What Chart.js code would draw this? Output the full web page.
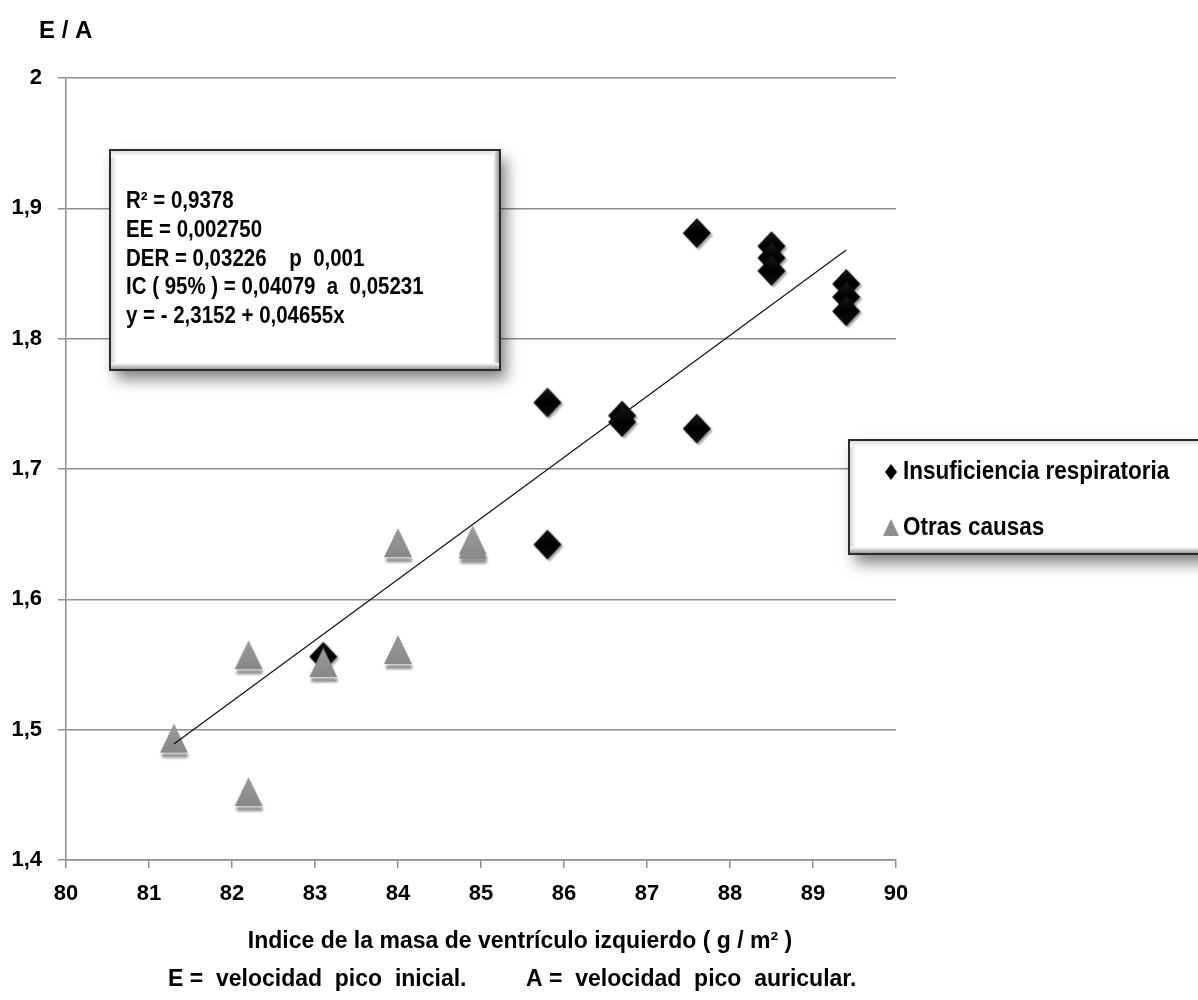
<!DOCTYPE html>
<html><head><meta charset="utf-8">
<script src="https://cdn.jsdelivr.net/npm/chart.js@4.4.1/dist/chart.umd.min.js"></script>
<style>html,body{margin:0;padding:0;background:#fff}canvas{display:block}</style>
</head><body>
<canvas id="c" width="1198" height="1000"></canvas>
<script>
const FONT = '"Liberation Sans",Arial,sans-serif';

// ---- data ----
const xTickValues = [80, 81, 82, 83, 84, 85, 86, 87, 88, 89, 90];
const yTickValues = [1.4, 1.5, 1.6, 1.7, 1.8, 1.9, 2.0];
const insufLabel = 'Insuficiencia respiratoria';
const insufX = [83.1, 85.8, 85.8, 86.7, 86.7, 87.6, 87.6, 88.5, 88.5, 88.5, 89.4, 89.4, 89.4];
const insufY = [1.556, 1.751, 1.642, 1.741, 1.736, 1.881, 1.731, 1.871, 1.862, 1.852, 1.842, 1.832, 1.821];
const otrasLabel = 'Otras causas';
const otrasX = [81.3, 82.2, 82.2, 83.1, 84.0, 84.0, 84.9, 84.9];
const otrasY = [1.492, 1.556, 1.451, 1.550, 1.642, 1.560, 1.644, 1.641];
const trendX = [81.3, 89.4];
const trendY = [1.489, 1.868];
const yTitle = 'E / A';
const xTitle = 'Indice de la masa de ventrículo izquierdo ( g / m² )';
const footLeft = 'E =  velocidad  pico  inicial.';
const footRight = 'A =  velocidad  pico  auricular.';
const statsLines = [
  'R² = 0,9378',
  'EE = 0,002750',
  'DER = 0,03226    p  0,001',
  'IC ( 95% ) = 0,04079  a  0,05231',
  'y = - 2,3152 + 0,04655x'
];

// ---- marker images ----
function makeDiamond(hw, hh) {
  const c = document.createElement('canvas');
  c.width = hw * 2 + 8; c.height = hh * 2 + 8;
  const g = c.getContext('2d');
  const cx = c.width / 2, cy = c.height / 2;
  g.shadowColor = 'rgba(0,0,0,0.35)'; g.shadowBlur = 2; g.shadowOffsetX = 2; g.shadowOffsetY = 2;
  g.beginPath();
  g.moveTo(cx, cy - hh); g.lineTo(cx + hw, cy); g.lineTo(cx, cy + hh); g.lineTo(cx - hw, cy); g.closePath();
  const gr = g.createLinearGradient(0, cy - hh, 0, cy + hh);
  gr.addColorStop(0, '#1a1a1a'); gr.addColorStop(0.5, '#000'); gr.addColorStop(1, '#111');
  g.fillStyle = gr; g.fill();
  return c;
}
function makeTriangle(hw, h) {
  const c = document.createElement('canvas');
  c.width = hw * 2 + 8; c.height = h + 12;
  const g = c.getContext('2d');
  const cx = c.width / 2, top = 4, base = top + h;
  g.save();
  g.filter = 'blur(1.5px)';
  g.fillStyle = 'rgba(90,90,90,0.75)';
  g.fillRect(cx - hw + 2, base + 1, hw * 2 - 2, 4);
  g.restore();
  g.beginPath();
  g.moveTo(cx, top); g.lineTo(cx + hw, base); g.lineTo(cx - hw, base); g.closePath();
  const gr = g.createLinearGradient(0, top, 0, base);
  gr.addColorStop(0, '#9a9a9a'); gr.addColorStop(1, '#888');
  g.fillStyle = gr; g.fill();
  return c;
}
const diamondImg = makeDiamond(14, 15);
const triangleImg = makeTriangle(14, 29);

function fmt(v) {
  const r = Math.round(v * 10) / 10;
  return Number.isInteger(r) ? String(r) : r.toFixed(1).replace('.', ',');
}

// draw text with horizontal compression (narrow look)
function drawText(ctx, text, x, y, size, sx, align) {
  ctx.save();
  ctx.translate(x, y);
  ctx.scale(sx, 1);
  ctx.font = 'bold ' + size + 'px ' + FONT;
  ctx.textAlign = align || 'left';
  ctx.textBaseline = 'middle';
  ctx.fillStyle = '#000';
  ctx.fillText(text, 0, 0);
  ctx.restore();
}

function bevelBox(ctx, x, y, w, h) {
  ctx.save();
  ctx.shadowColor = 'rgba(0,0,0,0.5)';
  ctx.shadowBlur = 14; ctx.shadowOffsetX = 6; ctx.shadowOffsetY = 9;
  ctx.fillStyle = '#fff';
  ctx.fillRect(x, y, w, h);
  ctx.restore();
  const b = 7;
  let g;
  g = ctx.createLinearGradient(x, 0, x + b, 0); g.addColorStop(0, '#cfcfcf'); g.addColorStop(1, '#fff');
  ctx.fillStyle = g; ctx.fillRect(x, y, b, h);
  g = ctx.createLinearGradient(0, y, 0, y + b); g.addColorStop(0, '#d8d8d8'); g.addColorStop(1, '#fff');
  ctx.fillStyle = g; ctx.fillRect(x, y, w, b);
  g = ctx.createLinearGradient(x + w, 0, x + w - b, 0); g.addColorStop(0, '#8a8a8a'); g.addColorStop(1, '#fff');
  ctx.fillStyle = g; ctx.fillRect(x + w - b, y, b, h);
  g = ctx.createLinearGradient(0, y + h, 0, y + h - b); g.addColorStop(0, '#8a8a8a'); g.addColorStop(1, '#fff');
  ctx.fillStyle = g; ctx.fillRect(x, y + h - b, w, b);
  ctx.lineWidth = 2; ctx.strokeStyle = '#2b2b2b';
  ctx.strokeRect(x, y, w, h);
}

const decor = {
  id: 'decor',
  afterDraw(chart) {
    const ctx = chart.ctx;
    ctx.save();
    drawText(ctx, yTitle, 39, 31, 24, 1, 'left');
    drawText(ctx, xTitle, 520, 942, 23, 1, 'center');
    drawText(ctx, footLeft, 168, 980, 23, 1, 'left');
    drawText(ctx, footRight, 526, 980, 23, 1, 'left');

    // stats box
    bevelBox(ctx, 110, 150, 390, 220);
    statsLines.forEach((t, i) => drawText(ctx, t, 126, 202 + i * 28.7, 23, 0.89, 'left'));

    // legend box
    bevelBox(ctx, 849, 440, 370, 114);
    const ds = chart.data.datasets;
    ctx.fillStyle = '#000';
    ctx.beginPath();
    ctx.moveTo(891, 464); ctx.lineTo(897, 472); ctx.lineTo(891, 480); ctx.lineTo(885, 472); ctx.closePath();
    ctx.fill();
    drawText(ctx, ds[1].label, 903, 472, 25, 0.9, 'left');
    ctx.beginPath();
    ctx.moveTo(891, 519); ctx.lineTo(899, 536); ctx.lineTo(883, 536); ctx.closePath();
    ctx.fillStyle = '#8f8f8f'; ctx.fill();
    drawText(ctx, ds[2].label, 903, 528, 25, 0.9, 'left');
    ctx.restore();
  }
};

const gridColor = '#8e8e8e';
const tickFont = { family: FONT, size: 22, weight: 'bold' };

new Chart(document.getElementById('c'), {
  type: 'scatter',
  data: {
    datasets: [
      {
        type: 'line', label: 'Tendencia',
        data: trendX.map((x, i) => ({ x, y: trendY[i] })),
        borderColor: '#111', borderWidth: 1.2, pointRadius: 0, fill: false, order: 0
      },
      {
        label: insufLabel,
        data: insufX.map((x, i) => ({ x, y: insufY[i] })),
        pointStyle: diamondImg, pointRadius: 15, order: 2
      },
      {
        label: otrasLabel,
        data: otrasX.map((x, i) => ({ x, y: otrasY[i] })),
        pointStyle: triangleImg, pointRadius: 15, order: 1
      }
    ]
  },
  options: {
    responsive: false,
    animation: false,
    events: [],
    layout: { padding: { left: 0, top: 78, right: 302, bottom: 0 } },
    plugins: { legend: { display: false }, tooltip: { enabled: false } },
    scales: {
      x: {
        type: 'linear', min: 80, max: 90,
        afterBuildTicks: s => { s.ticks = xTickValues.map(v => ({ value: v })); },
        afterFit: s => { s.height = 140; },
        ticks: { font: tickFont, color: '#000', padding: 13, maxRotation: 0, callback: v => String(v) },
        grid: { drawOnChartArea: false, drawTicks: true, tickLength: 8, color: gridColor, lineWidth: 1.5 },
        border: { color: gridColor, width: 1.5 }
      },
      y: {
        type: 'linear', min: 1.4, max: 2.0,
        afterBuildTicks: s => { s.ticks = yTickValues.map(v => ({ value: v })); },
        afterFit: s => { s.width = 66; },
        ticks: { font: tickFont, color: '#000', padding: 16, callback: v => fmt(v) },
        grid: { color: gridColor, lineWidth: 1.5, tickLength: 8, drawTicks: true },
        border: { color: gridColor, width: 1.5 }
      }
    }
  },
  plugins: [decor]
});
</script>
</body></html>
